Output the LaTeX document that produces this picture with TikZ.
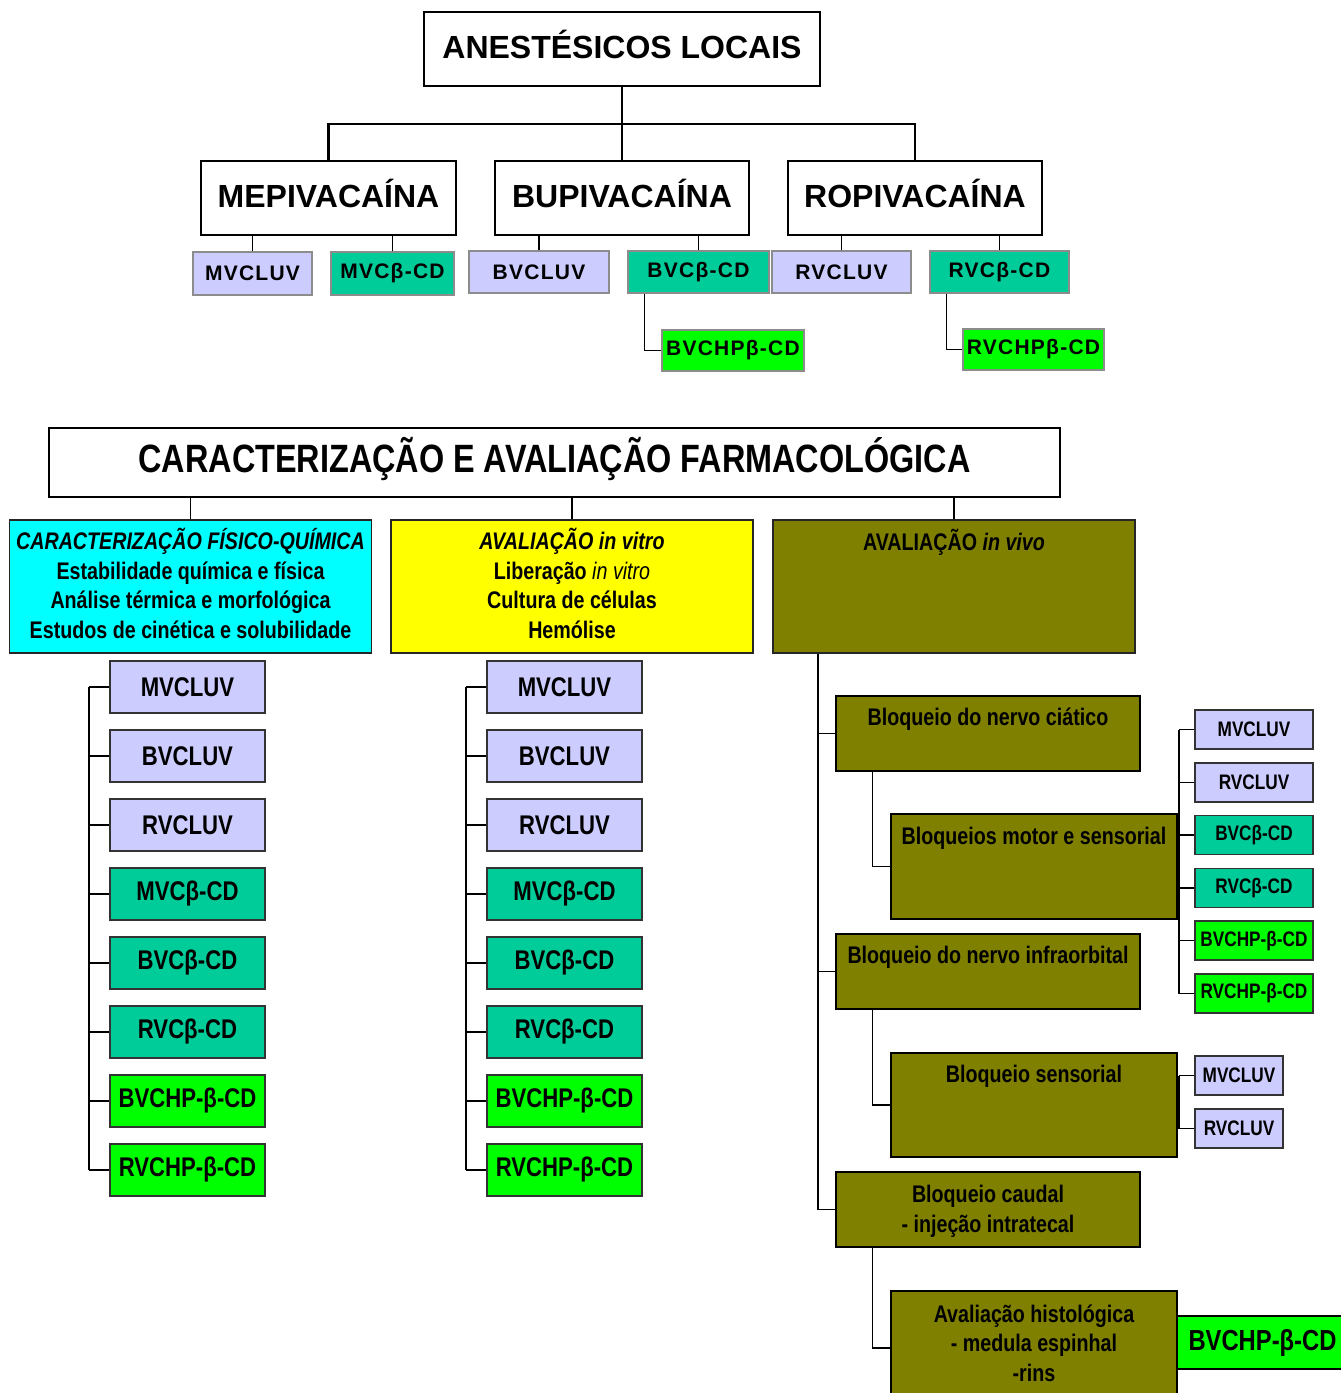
\documentclass[tikz,border=0pt]{standalone}
\usepackage{fontspec}
\setmainfont{Liberation Sans}
\newfontfamily\narrowfont[FakeStretch=0.82]{Liberation Sans}
\newfontfamily\spacedfont[LetterSpace=6]{Liberation Sans}
\usepackage{xcolor}
\usepackage{tikz}
\usetikzlibrary{positioning}

\definecolor{luv}{HTML}{CCCCFF}
\definecolor{cdx}{HTML}{00CC99}
\definecolor{hpx}{HTML}{00FF00}
\definecolor{olv}{HTML}{808000}
\definecolor{fqc}{HTML}{00FFFF}
\definecolor{vtc}{HTML}{FFFF00}

\begin{document}
\begin{tikzpicture}[x=1pt, y=-1pt,
  head/.style={draw, line width=2.5pt, inner sep=0pt, minimum height=74pt, text height=19pt, text depth=0pt, font=\bfseries\fontsize{32}{36}\selectfont},
  drug/.style={draw=black!45, line width=1.5pt, inner sep=0pt, minimum height=42pt, font=\spacedfont\bfseries\fontsize{21}{24}\selectfont},
  panel/.style={draw=black!85, line width=1.5pt, inner sep=0pt, minimum width=362pt, minimum height=133pt, align=center, font=\narrowfont\bfseries\fontsize{24}{29.5}\selectfont},
  listbox/.style={draw=black!80, line width=1.5pt, inner sep=0pt, minimum width=155pt, minimum height=52pt, font=\narrowfont\bfseries\fontsize{27}{30}\selectfont},
  minibox/.style={listbox, minimum width=118pt, minimum height=39pt, font=\narrowfont\bfseries\fontsize{21}{24}\selectfont},
  assay/.style={draw, fill=olv, line width=1.5pt, inner sep=0pt, align=center, font=\narrowfont\bfseries\fontsize{24}{29.5}\selectfont},
  atext/.style={inner sep=0pt, align=center, font=\narrowfont\bfseries\fontsize{24}{29.5}\selectfont},
  wire/.style={line width=1.5pt}]
  \path[use as bounding box, clip] (0,0) rectangle (1341,1393);

  % drugs
  \node[head, minimum width=396pt] (anes) at (622,49) {ANESTÉSICOS LOCAIS};
  \node[head, minimum width=255pt] (mepi) at (328.5,198) {MEPIVACAÍNA};
  \node[head, minimum width=254pt] (bupi) at (622,198) {BUPIVACAÍNA};
  \node[head, minimum width=254pt] (ropi) at (915,198) {ROPIVACAÍNA};
  \coordinate (hub) at (622,124);
  \draw[line width=2.5pt] (anes) -- (bupi);
  \draw[line width=2.5pt] (mepi.north) |- (hub) -| (ropi.north);

  \node[drug, fill=luv, minimum width=119pt, minimum height=43pt] (mv1) at (252.5,273.5) {MVCLUV};
  \node[drug, fill=cdx, minimum width=123pt, minimum height=43pt] (mc1) at (392.5,273.5) {MVCβ-CD};
  \node[drug, fill=luv, minimum width=140pt] (bv1) at (539,272) {BVCLUV};
  \node[drug, fill=cdx, minimum width=141pt] (bc1) at (698.5,272) {BVCβ-CD};
  \node[drug, fill=luv, minimum width=139pt] (rv1) at (841.5,272) {RVCLUV};
  \node[drug, fill=cdx, minimum width=139pt] (rc1) at (999.5,272) {RVCβ-CD};
  \node[drug, fill=hpx, minimum width=142pt, minimum height=41pt] (bh1) at (733,350.5) {BVCHPβ-CD};
  \node[drug, fill=hpx, minimum width=141pt, minimum height=41pt] (rh1) at (1033.5,349.5) {RVCHPβ-CD};
  \draw[wire] (mv1.north) -- (mv1.north |- mepi.south);
  \draw[wire] (mc1.north) -- (mc1.north |- mepi.south);
  \draw[wire] (bv1.north) -- (bv1.north |- bupi.south);
  \draw[wire] (bc1.north) -- (bc1.north |- bupi.south);
  \draw[wire] (rv1.north) -- (rv1.north |- ropi.south);
  \draw[wire] (rc1.north) -- (rc1.north |- ropi.south);
  \draw[wire] ([xshift=17pt]bc1.south west) |- (bh1.west);
  \draw[wire] ([xshift=17pt]rc1.south west) |- (rh1.west);

  % evaluation
  \node[head, line width=2pt, minimum width=1011pt, minimum height=69pt, text height=20.3pt,
        font=\narrowfont\bfseries\fontsize{39.5}{42}\selectfont] (cae) at (554.5,462.5)
        {CARACTERIZAÇÃO E AVALIAÇÃO FARMACOLÓGICA};
  \node[panel, fill=fqc] (fq) at (190.5,586.5) {};
  \node[atext] (fqt) at ([yshift=3pt]fq.center)
        {\textit{CARACTERIZAÇÃO FÍSICO-QUÍMICA}\\Estabilidade química e física\\Análise térmica e morfológica\\Estudos de cinética e solubilidade};
  \node[panel, fill=vtc] (vitro) at (572,586.5) {};
  \node[atext] (vitrot) at ([yshift=3pt]vitro.center)
        {\textit{AVALIAÇÃO in vitro}\\Liberação {\mdseries\itshape in vitro}\\Cultura de células\\Hemólise};
  \node[panel, fill=olv] (vivo) at (954,586.5) {};
  \node[atext] (vivot) at ([yshift=-23pt]vivo.north) {AVALIAÇÃO \textit{in vivo}};
  \foreach \p in {fq,vitro,vivo}
    \draw[wire] (\p.north) -- (\p.north |- cae.south);

  \coordinate (qbus) at (89,0);
  \coordinate (tbus) at (466,0);
  \foreach \t/\c [count=\i] in {MVCLUV/luv,BVCLUV/luv,RVCLUV/luv,MVCβ-CD/cdx,BVCβ-CD/cdx,RVCβ-CD/cdx,BVCHP-β-CD/hpx,RVCHP-β-CD/hpx}{
    \node[listbox, fill=\c] (fq\i) at (187.5,{618+69*\i}) {\t};
    \node[listbox, fill=\c] (vt\i) at (564.5,{618+69*\i}) {\t};
    \draw[wire] (fq\i.west) -- (fq\i.west -| qbus);
    \draw[wire] (vt\i.west) -- (vt\i.west -| tbus);
  }
  \draw[wire] (fq1.west -| qbus) -- (fq8.west -| qbus);
  \draw[wire] (vt1.west -| tbus) -- (vt8.west -| tbus);

  % in vivo
  \node[assay, minimum width=304pt, minimum height=75pt] (cia) at (988,733.5) {};
  \node[atext] (ciat) at ([yshift=-24pt]cia.north) {Bloqueio do nervo ciático};
  \node[assay, minimum width=286pt, minimum height=105pt] (mot) at (1034,866.5) {};
  \node[atext] (mott) at ([yshift=-25pt]mot.north) {Bloqueios motor e sensorial};
  \node[assay, minimum width=304pt, minimum height=75pt] (inf) at (988,971.5) {};
  \node[atext] (inft) at ([yshift=-24pt]inf.north) {Bloqueio do nervo infraorbital};
  \node[assay, minimum width=286pt, minimum height=104pt] (sen) at (1034,1105) {};
  \node[atext] (sent) at ([yshift=-24pt]sen.north) {Bloqueio sensorial};
  \node[assay, minimum width=304pt, minimum height=75pt] (cau) at (988,1209.5) {};
  \node[atext] (caut) at ([yshift=-2pt]cau.center) {Bloqueio caudal\\- injeção intratecal};
  \node[assay, minimum width=286pt, minimum height=114pt] (his) at (1034,1348) {};
  \node[atext] (hist) at ([yshift=-53pt]his.north) {Avaliação histológica\\- medula espinhal\\-rins};
  \node[listbox, fill=hpx, draw=black, line width=2pt, minimum width=171pt, minimum height=53pt,
        font=\narrowfont\bfseries\fontsize{29}{32}\selectfont] (hpb) at (1262.5,1342.5) {BVCHP-β-CD};

  \coordinate (vbus) at (818,0);
  \draw[wire] (vivo.south -| vbus) |- (cau.west);
  \draw[wire] (cia.west) -- (cia.west -| vbus);
  \draw[wire] (inf.west) -- (inf.west -| vbus);
  \draw[wire] ([xshift=37pt]cia.south west) |- (mot.west);
  \draw[wire] ([xshift=37pt]inf.south west) |- (sen.west);
  \draw[wire] ([xshift=37pt]cau.south west) |- (his.west);

  \coordinate (rbus) at (1179,0);
  \foreach \t/\c [count=\i] in {MVCLUV/luv,RVCLUV/luv,BVCβ-CD/cdx,RVCβ-CD/cdx,BVCHP-β-CD/hpx,RVCHP-β-CD/hpx}{
    \node[minibox, fill=\c] (ms\i) at (1254,{676.7+52.8*\i}) {\t};
    \draw[wire] (ms\i.west) -- (ms\i.west -| rbus);
  }
  \draw[wire] (ms1.west -| rbus) -- (ms6.west -| rbus);
  \foreach \t [count=\i] in {MVCLUV,RVCLUV}{
    \node[minibox, fill=luv, minimum width=88pt] (ss\i) at (1239,{1022.5+53*\i}) {\t};
    \draw[wire] (ss\i.west) -- (ss\i.west -| rbus);
  }
  \draw[wire] (ss1.west -| rbus) -- (ss2.west -| rbus);
\end{tikzpicture}
\end{document}
